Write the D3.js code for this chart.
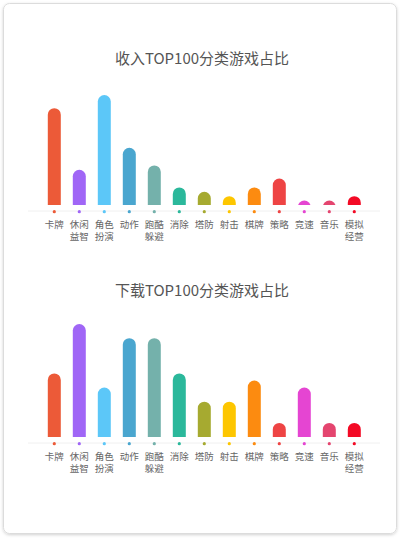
<!DOCTYPE html>
<html>
<head>
<meta charset="utf-8">
<script src="https://cdn.jsdelivr.net/npm/d3@7"></script>
<style>
html,body{margin:0;padding:0;background:#fff;}
svg{display:block;font-family:"Noto Sans CJK SC","Noto Sans",sans-serif;}
</style>
</head>
<body>
<div id="chart"></div>
<script>
// ---- data ----
const categories = ["卡牌","休闲\n益智","角色\n扮演","动作","跑酷\n躲避","消除","塔防","射击","棋牌","策略","竞速","音乐","模拟\n经营"];
const colors = ["#ec5a38","#a066f6","#5cc7f8","#4aa6cf","#74b1ab","#2bb89b","#a6aa30","#fdc600","#fc8b10","#ee4444","#e545d2","#e4456f","#f30a25"];
const revenueShare = [22,8,25,13,9,4,3,2,4,6,1,1,2];
const downloadShare = [9,16,7,14,14,9,5,5,8,2,7,2,2];
const titles = ["收入TOP100分类游戏占比","下载TOP100分类游戏占比"];
const yMax = [25,16];

const W = 400, H = 539;
const svg = d3.select("#chart").append("svg").attr("width", W).attr("height", H);

const defs = svg.append("defs");
const f = defs.append("filter").attr("id","shadow").attr("x","-5%").attr("y","-5%").attr("width","110%").attr("height","110%");
f.append("feDropShadow").attr("dx",0).attr("dy",1).attr("stdDeviation",1.5).attr("flood-color","#000").attr("flood-opacity",0.18);

svg.append("rect").attr("x",3.5).attr("y",3.5).attr("width",393).attr("height",530)
  .attr("rx",6).attr("fill","#fff").attr("stroke","#dcdcdc").attr("filter","url(#shadow)");

const x = d3.scaleBand().domain(categories).range([41.8, 366.8]).paddingInner(0).paddingOuter(0);
const barW = 13, r = barW/2;

function drawChart(idx, values, offsetY, plotH){
  const g = svg.append("g").attr("transform", `translate(0,${offsetY})`);
  const base = 205;
  const y = d3.scaleLinear().domain([0, yMax[idx]]).range([base, base - plotH]);

  g.append("text").attr("x", 202).attr("y", 64).attr("text-anchor","middle")
    .attr("font-size", 15).attr("fill","#555").text(titles[idx]);

  const cid = "clip" + idx;
  defs.append("clipPath").attr("id", cid).append("rect")
    .attr("x", 0).attr("y", 0).attr("width", W).attr("height", base);

  g.append("line").attr("x1", 28).attr("x2", 380).attr("y1", base + 6).attr("y2", base + 6)
    .attr("stroke","#f0f0f0").attr("stroke-width",1);

  const bars = g.append("g").attr("clip-path", `url(#${cid})`);

  bars.selectAll("path").data(values).join("path")
    .attr("fill", (d,i) => colors[i])
    .attr("d", (d,i) => {
      const cx = x(categories[i]) + x.bandwidth()/2;
      const x0 = cx - r, x1 = cx + r;
      const top = y(d);
      return `M${x0},${base + r}L${x0},${top + r}A${r},${r} 0 0 1 ${x1},${top + r}L${x1},${base + r}Z`;
    });

  g.selectAll("circle.dot").data(values).join("circle").attr("class","dot")
    .attr("cx", (d,i) => x(categories[i]) + x.bandwidth()/2)
    .attr("cy", base + 6.7).attr("r", 1.6)
    .attr("fill", (d,i) => colors[i]);

  const labels = g.selectAll("text.lab").data(categories).join("text").attr("class","lab")
    .attr("text-anchor","middle").attr("font-size", 9.5).attr("fill","#666")
    .attr("x", d => x(d) + x.bandwidth()/2).attr("y", base + 23.3);
  labels.selectAll("tspan").data(d => d.split("\n")).join("tspan")
    .attr("x", function(){ return d3.select(this.parentNode).attr("x"); })
    .attr("dy", (d,i) => i === 0 ? 0 : 12)
    .text(d => d);
}

drawChart(0, revenueShare, 0, 110);
drawChart(1, downloadShare, 232, 113);
</script>
</body>
</html>
